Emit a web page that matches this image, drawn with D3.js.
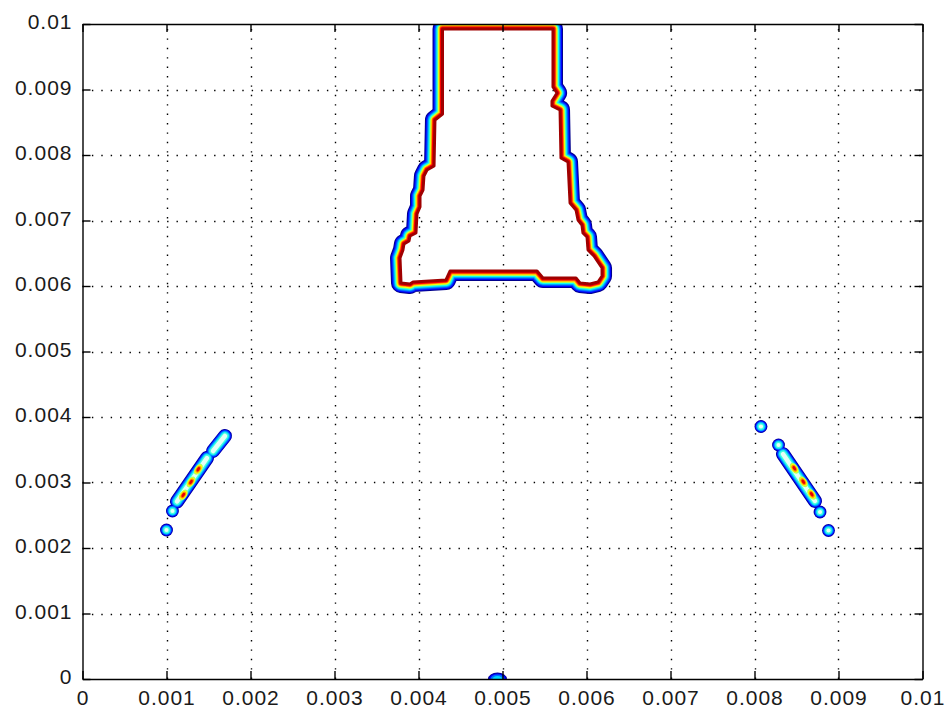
<!DOCTYPE html>
<html>
<head>
<meta charset="utf-8">
<script src="https://cdn.jsdelivr.net/npm/d3@7"></script>
<style>
  body { margin: 0; background: #fff; }
  .tick text { font-family: "Liberation Sans", Arial, sans-serif; font-size: 21px; fill: #1a1a1a; letter-spacing: 1px; }
</style>
</head>
<body>
<svg id="chart" width="947" height="714"></svg>
<script>
// ---- tick values and labels ----
const xTicks = [0, 0.001, 0.002, 0.003, 0.004, 0.005, 0.006, 0.007, 0.008, 0.009, 0.01];
const xTickLabels = ["0", "0.001", "0.002", "0.003", "0.004", "0.005", "0.006", "0.007", "0.008", "0.009", "0.01"];
const yTicks = [0, 0.001, 0.002, 0.003, 0.004, 0.005, 0.006, 0.007, 0.008, 0.009, 0.01];
const yTickLabels = ["0", "0.001", "0.002", "0.003", "0.004", "0.005", "0.006", "0.007", "0.008", "0.009", "0.01"];

// ---- innermost contour of the upper region, [x, y] in axis units ----
const outline = [
  [0.004286, 0.009924], [0.005601, 0.009924], [0.005601, 0.009038], [0.005649, 0.008947],
  [0.005589, 0.008824], [0.005589, 0.008748], [0.005685, 0.008687], [0.005696, 0.007954],
  [0.005780, 0.007893], [0.005804, 0.007267], [0.005875, 0.007160], [0.005899, 0.007008],
  [0.005946, 0.006931], [0.005958, 0.006809], [0.006006, 0.006748], [0.006018, 0.006550],
  [0.006089, 0.006458], [0.006137, 0.006366], [0.006185, 0.006275], [0.006185, 0.006153],
  [0.006137, 0.006061], [0.006042, 0.006031], [0.005923, 0.006046], [0.005875, 0.006122],
  [0.005482, 0.006122], [0.005411, 0.006229], [0.004375, 0.006229], [0.004327, 0.006092],
  [0.003935, 0.006061], [0.003899, 0.006031], [0.003792, 0.006046], [0.003780, 0.006427],
  [0.003815, 0.006550], [0.003827, 0.006641], [0.003887, 0.006687], [0.003899, 0.006763],
  [0.003970, 0.006809], [0.003982, 0.007099], [0.004018, 0.007206], [0.004018, 0.007374],
  [0.004054, 0.007466], [0.004065, 0.007679], [0.004101, 0.007771], [0.004185, 0.007832],
  [0.004196, 0.008534], [0.004286, 0.008626]
];

// ---- ridges of the two side arcs: [x1, y1, x2, y2] in axis units ----
const ridgesLeft = [[0.001125, 0.002710, 0.001482, 0.003374], [0.001554, 0.003481, 0.001696, 0.003710]];
const ridgesRight = [[0.008339, 0.003435, 0.008720, 0.002718]];
// ---- isolated bumps, [x, y] ----
const bumpsLeft = [[0.001000, 0.002275], [0.001071, 0.002565]];
const bumpsRight = [[0.008077, 0.003855], [0.008286, 0.003573], [0.008780, 0.002550], [0.008881, 0.002267]];
// ---- peaks along the arcs, [x, y] ----
const peaksLeft = [[0.001200, 0.002809], [0.001292, 0.003008], [0.001379, 0.003202]];
const peaksRight = [[0.008474, 0.003217], [0.008581, 0.003012], [0.008681, 0.002820]];
// ---- bump sitting on the lower edge ----
const edgeBump = [[0.00494, 0]];

// ---- styles ----
const outlineBands = [  // offset outward from the inner contour (px), outer first
  { off: 10, color: "#00008c" }, { off: 9, color: "#0000ff" }, { off: 8, color: "#0050ff" },
  { off: 7, color: "#00a8ff" }, { off: 6, color: "#10ffef" }, { off: 5, color: "#90ff70" },
  { off: 4.2, color: "#ffff00" }, { off: 3.4, color: "#ff9000" }, { off: 2.5, color: "#ff0000" }
];
const ridgeBands = [
  { w: 14, color: "#00009a" }, { w: 12.5, color: "#0000ff" }, { w: 11, color: "#0070ff" },
  { w: 9, color: "#00d0ff" }, { w: 7, color: "#40ffe0" }, { w: 4.5, color: "#e4fff6" }
];
const bumpScale = 0.92;
const peakBands = [
  { r: 4.2, color: "#b0ff60" }, { r: 3.4, color: "#ffff00" }, { r: 2.6, color: "#ff8c00" }, { r: 1.7, color: "#e80000" }
];

const W = 947, H = 714;
const m = { left: 82.5, right: 922.5, top: 24, bottom: 679 };
const x = d3.scaleLinear().domain([0, 0.01]).range([m.left, m.right]);
const y = d3.scaleLinear().domain([0, 0.01]).range([m.bottom, m.top]);

const svg = d3.select("#chart");
svg.append("rect").attr("width", W).attr("height", H).attr("fill", "#fff");

const defs = svg.append("defs");
defs.append("clipPath").attr("id", "plotClip")
  .append("rect").attr("x", m.left).attr("y", m.top)
  .attr("width", m.right - m.left).attr("height", m.bottom - m.top);

const line = d3.line().x(d => x(d[0])).y(d => y(d[1])).curve(d3.curveLinearClosed);
const outlinePath = line(outline);

const mask = defs.append("mask").attr("id", "outsideMask")
  .attr("maskUnits", "userSpaceOnUse").attr("x", 0).attr("y", 0).attr("width", W).attr("height", H);
mask.append("rect").attr("width", W).attr("height", H).attr("fill", "#fff");
mask.append("path").attr("d", outlinePath).attr("fill", "#000");

// ---- grid ----
const grid = svg.append("g").attr("stroke", "#000").attr("stroke-width", 1.4).attr("stroke-dasharray", "1.4,8");
grid.selectAll("line.v").data(xTicks.slice(1, -1)).join("line").attr("class", "v")
  .attr("x1", d => Math.round(x(d)) + 0.5).attr("x2", d => Math.round(x(d)) + 0.5)
  .attr("y1", m.bottom).attr("y2", m.top);
grid.selectAll("line.h").data(yTicks.slice(1, -1)).join("line").attr("class", "h")
  .attr("y1", d => Math.round(y(d)) + 0.5).attr("y2", d => Math.round(y(d)) + 0.5)
  .attr("x1", m.left).attr("x2", m.right);

// ---- contours ----
const plot = svg.append("g").attr("clip-path", "url(#plotClip)");

// upper region: nested levels just outside the innermost contour
const bands = plot.append("g").attr("mask", "url(#outsideMask)");
bands.selectAll("path").data(outlineBands).join("path")
  .attr("d", outlinePath).attr("fill", "none")
  .attr("stroke", d => d.color).attr("stroke-width", d => d.off * 2)
  .attr("stroke-linejoin", "round");
plot.append("path").attr("d", outlinePath).attr("fill", "none")
  .attr("stroke", "#a00000").attr("stroke-width", 3).attr("stroke-linejoin", "round");

// side arcs
function drawArc(ridges, bumps, peaks) {
  const g = plot.append("g");
  ridgeBands.forEach(b => {
    g.append("g").selectAll("line").data(ridges).join("line")
      .attr("x1", d => x(d[0])).attr("y1", d => y(d[1]))
      .attr("x2", d => x(d[2])).attr("y2", d => y(d[3]))
      .attr("stroke", b.color).attr("stroke-width", b.w).attr("stroke-linecap", "round");
    g.append("g").selectAll("circle").data(bumps).join("circle")
      .attr("cx", d => x(d[0])).attr("cy", d => y(d[1])).attr("r", b.w / 2 * bumpScale)
      .attr("fill", b.color);
  });
  // peaks are stretched along the ridge direction
  const r0 = ridges[0];
  const angle = Math.atan2(y(r0[3]) - y(r0[1]), x(r0[2]) - x(r0[0])) * 180 / Math.PI;
  peakBands.forEach(b => {
    g.append("g").selectAll("ellipse").data(peaks).join("ellipse")
      .attr("transform", d => `translate(${x(d[0])},${y(d[1])}) rotate(${angle})`)
      .attr("rx", b.r * 1.45).attr("ry", b.r * 0.85).attr("fill", b.color);
  });
}
drawArc(ridgesLeft, bumpsLeft, peaksLeft);
drawArc(ridgesRight, bumpsRight, peaksRight);

// bump on the lower edge
const eb = plot.append("g");
[{ rx: 9.5, ry: 6.5, c: "#00009a" }, { rx: 8.5, ry: 5.6, c: "#0000ff" }, { rx: 7, ry: 4.5, c: "#0070ff" },
 { rx: 5, ry: 3, c: "#00d8ff" }].forEach(b => {
  eb.append("g").selectAll("ellipse").data(edgeBump).join("ellipse")
    .attr("cx", d => x(d[0])).attr("cy", d => y(d[1])).attr("rx", b.rx).attr("ry", b.ry).attr("fill", b.c);
});

// ---- axes ----
const tick = 8;
const ax = svg.append("g").attr("class", "axes");
ax.append("g").attr("transform", `translate(0,${m.bottom})`)
  .call(d3.axisBottom(x).tickValues(xTicks).tickFormat((d, i) => xTickLabels[i]).tickSizeInner(-tick).tickSizeOuter(0).tickPadding(11));
ax.append("g").attr("transform", `translate(${m.left},0)`)
  .call(d3.axisLeft(y).tickValues(yTicks).tickFormat((d, i) => yTickLabels[i]).tickSizeInner(-tick).tickSizeOuter(0).tickPadding(10));
ax.append("g").attr("transform", `translate(0,${m.top})`)
  .call(d3.axisTop(x).tickValues(xTicks).tickFormat("").tickSizeInner(-tick).tickSizeOuter(0));
ax.append("g").attr("transform", `translate(${m.right},0)`)
  .call(d3.axisRight(y).tickValues(yTicks).tickFormat("").tickSizeInner(-tick).tickSizeOuter(0));
ax.selectAll(".domain").attr("stroke", "#000").attr("stroke-width", 1.4);
ax.selectAll(".tick line").attr("stroke", "#000").attr("stroke-width", 1.4);
ax.selectAll("g").attr("font-family", null).attr("font-size", null);
ax.selectAll(".tick text").filter(function () { return this.getAttribute("dy") === "0.32em"; }).attr("dy", "0.22em");
</script>
</body>
</html>
